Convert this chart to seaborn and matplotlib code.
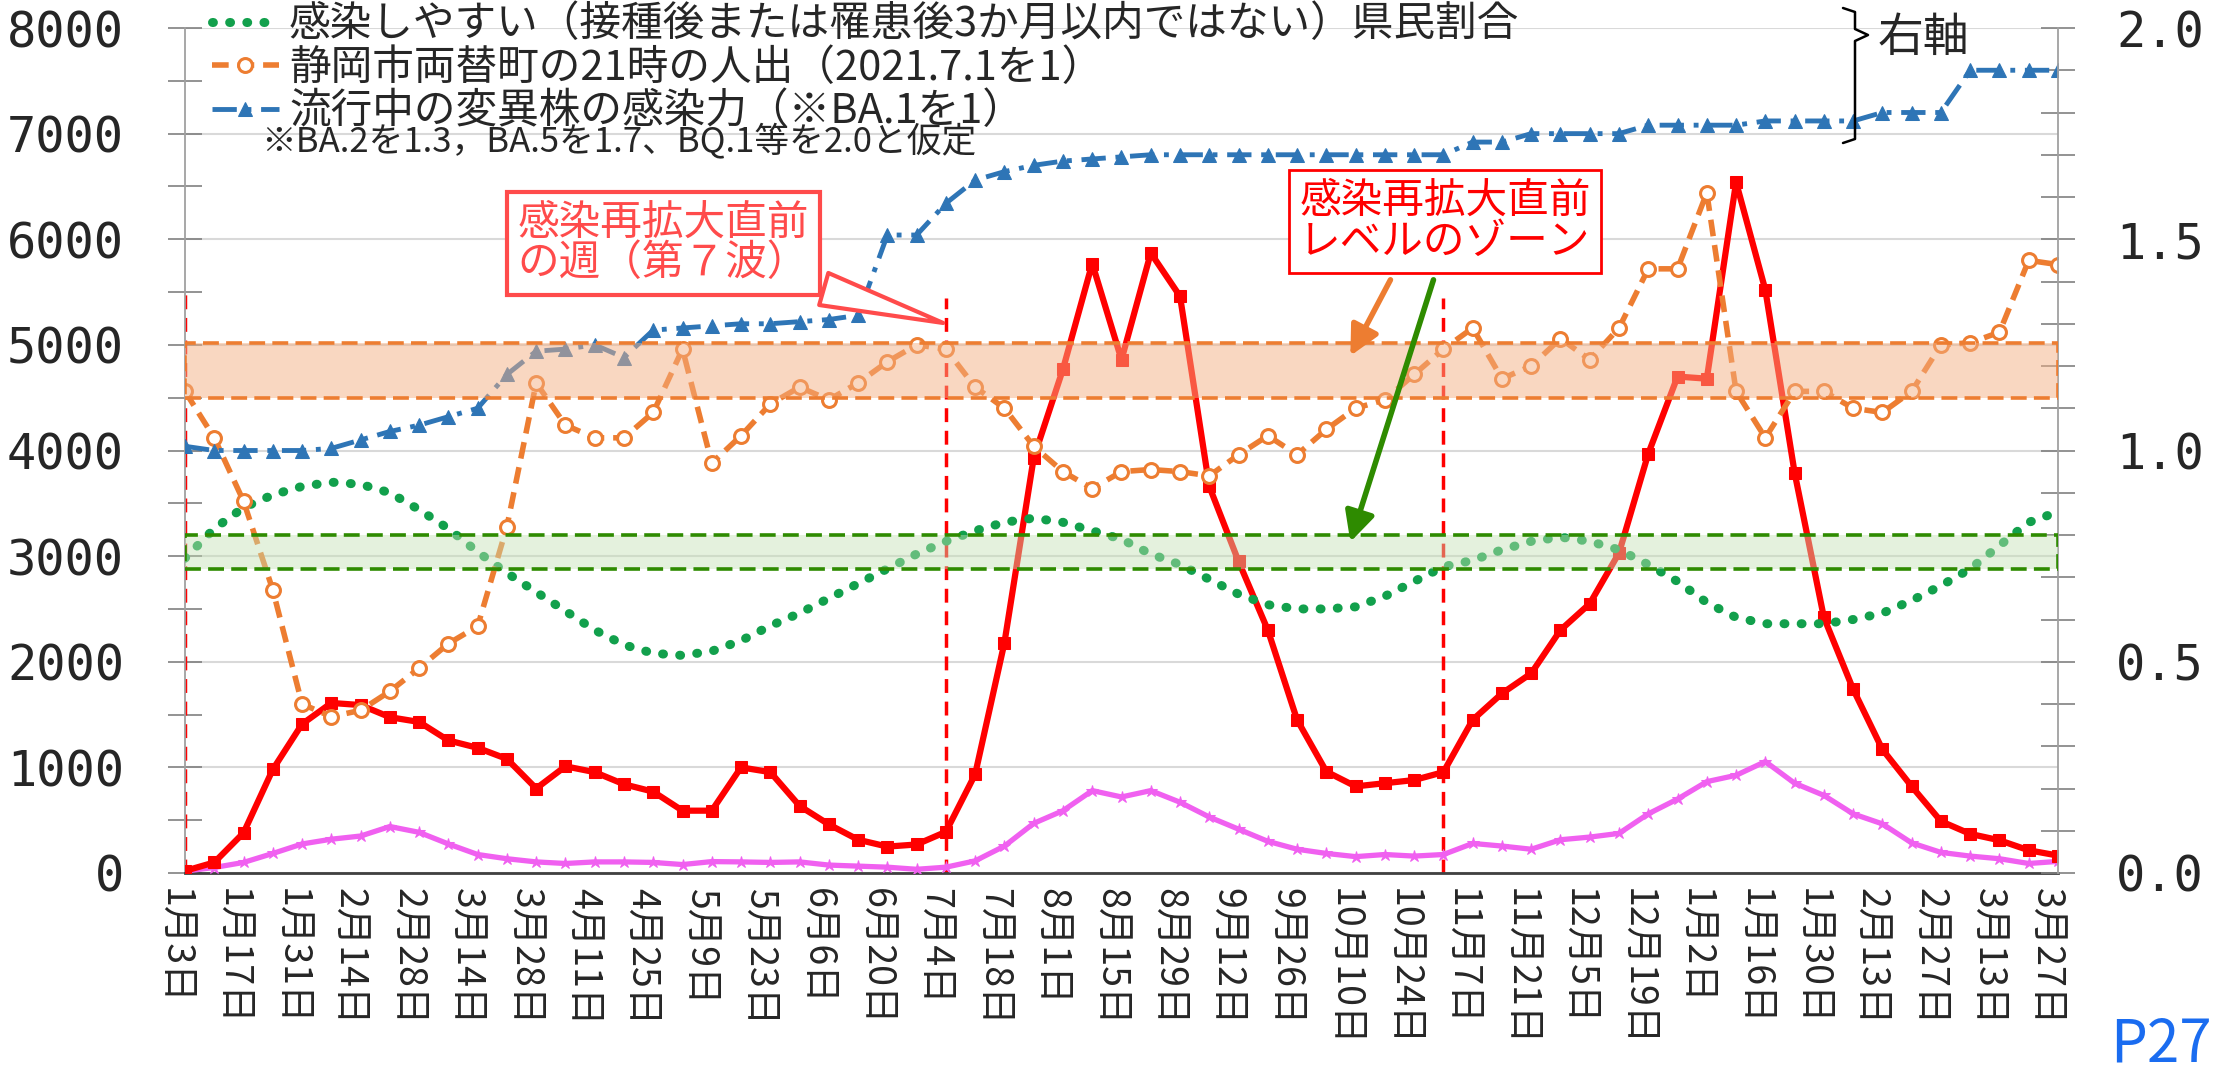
import matplotlib
matplotlib.use('Agg')
import matplotlib.pyplot as plt
import matplotlib.colors as mcolors
import matplotlib.transforms as mtransforms
from matplotlib.lines import Line2D
from matplotlib.ticker import MultipleLocator
import numpy as np
import pandas as pd
import seaborn as sns

# x軸ラベル（2週ごと）
week_labels = ['1月3日', '1月17日', '1月31日', '2月14日', '2月28日', '3月14日', '3月28日',
               '4月11日', '4月25日', '5月9日', '5月23日', '6月6日', '6月20日', '7月4日',
               '7月18日', '8月1日', '8月15日', '8月29日', '9月12日', '9月26日', '10月10日',
               '10月24日', '11月7日', '11月21日', '12月5日', '12月19日', '1月2日', '1月16日',
               '1月30日', '2月13日', '2月27日', '3月13日', '3月27日']

# 左軸（人数）
new_cases = [20, 100, 380, 980, 1410, 1610, 1590, 1475, 1430, 1255, 1185, 1080, 800, 1010,
             955, 840, 770, 590, 590, 1000, 955, 635, 460, 315, 250, 270, 390, 935, 2180,
             3930, 4770, 5770, 4860, 5870, 5460, 3660, 2950, 2300, 1450, 960, 820, 850, 880,
             955, 1450, 1700, 1890, 2300, 2550, 3030, 3970, 4700, 4680, 6540, 5520, 3790,
             2420, 1740, 1170, 820, 490, 370, 310, 215, 165]
sub_cases = [18, 52, 100, 185, 275, 320, 350, 440, 385, 275, 175, 135, 105, 90, 105, 105, 100,
             80, 108, 105, 100, 105, 75, 65, 55, 35, 55, 115, 255, 470, 590, 780, 720, 780,
             670, 530, 415, 300, 225, 185, 155, 175, 160, 175, 280, 255, 225, 315, 340, 375,
             560, 700, 865, 925, 1055, 850, 735, 560, 465, 285, 195, 160, 135, 90, 110]

# 右軸
susceptible = [0.745, 0.815, 0.865, 0.895, 0.915, 0.925, 0.92, 0.90, 0.86, 0.815, 0.76, 0.71,
               0.665, 0.62, 0.575, 0.54, 0.52, 0.515, 0.525, 0.55, 0.585, 0.615, 0.65, 0.685,
               0.72, 0.755, 0.785, 0.81, 0.83, 0.84, 0.83, 0.81, 0.79, 0.755, 0.73, 0.695,
               0.66, 0.635, 0.625, 0.625, 0.63, 0.655, 0.69, 0.725, 0.74, 0.765, 0.785, 0.795,
               0.785, 0.765, 0.73, 0.69, 0.64, 0.605, 0.59, 0.59, 0.59, 0.60, 0.615, 0.645,
               0.68, 0.72, 0.775, 0.83, 0.855]
night_crowd = [1.14, 1.03, 0.88, 0.67, 0.40, 0.37, 0.385, 0.43, 0.485, 0.543, 0.584, 0.82,
               1.16, 1.06, 1.03, 1.03, 1.09, 1.24, 0.97, 1.035, 1.11, 1.15, 1.12, 1.16, 1.21,
               1.25, 1.24, 1.15, 1.10, 1.01, 0.95, 0.91, 0.95, 0.955, 0.95, 0.94, 0.99, 1.035,
               0.99, 1.05, 1.10, 1.12, 1.18, 1.24, 1.29, 1.17, 1.20, 1.265, 1.215, 1.29, 1.43,
               1.43, 1.61, 1.14, 1.03, 1.14, 1.14, 1.10, 1.09, 1.14, 1.25, 1.255, 1.28, 1.45,
               1.44]
variant_power = [1.01, 1.0, 1.0, 1.0, 1.0, 1.005, 1.025, 1.045, 1.06, 1.08, 1.10, 1.18, 1.235,
                 1.24, 1.25, 1.22, 1.285, 1.29, 1.295, 1.30, 1.30, 1.305, 1.31, 1.32, 1.51,
                 1.51, 1.585, 1.64, 1.66, 1.675, 1.685, 1.69, 1.695, 1.70, 1.70, 1.70, 1.70,
                 1.70, 1.70, 1.70, 1.70, 1.70, 1.70, 1.70, 1.73, 1.73, 1.75, 1.75, 1.75, 1.75,
                 1.77, 1.77, 1.77, 1.77, 1.78, 1.78, 1.78, 1.78, 1.80, 1.80, 1.80, 1.90, 1.90,
                 1.90, 1.90]

# 感染再拡大直前の週（縦線）とゾーン（右軸単位）
pre_wave_weeks = [0, 26, 43]
pre_wave_tops = [5530, 5440, 5440]
orange_zone = (1.125, 1.255)
green_zone = (0.72, 0.80)

sns.set_style('white')
plt.rcParams['font.family'] = ['Noto Sans CJK JP', 'DejaVu Sans']

W, H = 2215, 1073
fig = plt.figure(figsize=(W / 100, H / 100), dpi=100)
ax = fig.add_axes([185 / W, 1 - 873 / H, (2058 - 185) / W, (873 - 28) / H])
ax2 = ax.twinx()

weeks = np.arange(len(new_cases))
df = pd.DataFrame({'week': weeks, 'cases': new_cases, 'sub': sub_cases,
                   'susceptible': susceptible, 'crowd': night_crowd, 'power': variant_power})

# 左軸の系列
ax.yaxis.grid(True, color='#D9D9D9', lw=1.5)
ax.set_axisbelow(True)
ax.vlines(pre_wave_weeks, 0, pre_wave_tops, colors='#FF0000',
          linestyles=(0, (4, 2.5)), lw=2.5, zorder=2)
sns.lineplot(data=df, x='week', y='cases', ax=ax, color='#FF0000', lw=4.5, marker='s',
             ms=9, markeredgecolor='#FF0000', zorder=4)
sns.lineplot(data=df, x='week', y='sub', ax=ax, color='#F060F0', lw=3.8, marker='*',
             ms=9, markeredgecolor='#F060F0', zorder=3)

# 右軸の系列
sns.lineplot(data=df, x='week', y='susceptible', ax=ax2, color='#12A04C', lw=6.5,
             linestyle=(0, (0.1, 1.8)), dash_capstyle='round',
             label='感染しやすい（接種後または罹患後3か月以内ではない）県民割合')
sns.lineplot(data=df, x='week', y='crowd', ax=ax2, color='#ED7D31', lw=4,
             linestyle=(0, (3, 1.6)), marker='o', ms=10, markerfacecolor='white',
             markeredgecolor='#ED7D31', markeredgewidth=2.2,
             label='静岡市両替町の21時の人出（2021.7.1を1）')
sns.lineplot(data=df, x='week', y='power', ax=ax2, color='#2E75B6', lw=3.5,
             linestyle=(0, (5, 2, 1, 2)), marker='^', ms=10, markeredgecolor='#2E75B6',
             label='流行中の変異株の感染力（※BA.1を1）')

# ゾーン
ax2.axhspan(*orange_zone, facecolor=mcolors.to_rgba('#F4B084', 0.5), edgecolor='#ED7D31',
            linestyle=(0, (4.4, 2)), lw=2.6, zorder=5)
ax2.axhspan(*green_zone, facecolor=mcolors.to_rgba('#C5E0B4', 0.45), edgecolor='#2E8B00',
            linestyle=(0, (4.4, 2)), lw=2.6, zorder=5)

# 軸
ax.set_xlim(0, len(new_cases) - 1)
ax.set_ylim(0, 8000)
ax2.set_ylim(0, 2.0)
ax.set_xlabel('')
ax.set_ylabel('')
ax2.set_ylabel('')
ax.set_xticks(weeks[::2])
ax.set_xticklabels(week_labels, rotation=270, fontsize=27)
ax.set_xticks(weeks[1::2], minor=True)
ax.tick_params(axis='x', which='major', direction='inout', length=17, width=1.3,
               color='#404040', pad=2)
ax.tick_params(axis='x', which='minor', direction='out', length=9, width=1.3, color='#404040')
ax.set_yticks(np.arange(0, 8001, 1000))
ax.yaxis.set_minor_locator(MultipleLocator(500))
ax.tick_params(axis='y', which='both', direction='inout', length=24, width=1.2,
               color='#808080', labelsize=35, pad=32, labelfontfamily='DejaVu Sans Mono')
ax2.set_yticks(np.arange(0, 2.01, 0.5))
ax2.set_yticklabels([f'{v:.1f}' for v in np.arange(0, 2.01, 0.5)])
ax2.yaxis.set_minor_locator(MultipleLocator(0.1))
ax2.tick_params(axis='y', which='both', direction='inout', length=24, width=1.2,
                color='#808080', labelsize=35, pad=30, labelfontfamily='DejaVu Sans Mono')
for side in ['top', 'right']:
    ax.spines[side].set_visible(False)
for side in ['top', 'left', 'bottom']:
    ax2.spines[side].set_visible(False)
ax.spines['left'].set_color('#A0A0A0')
ax.spines['left'].set_linewidth(1.3)
ax2.spines['right'].set_color('#A0A0A0')
ax2.spines['right'].set_linewidth(1.3)
ax.spines['bottom'].set_color('#404040')
ax.spines['bottom'].set_linewidth(2)

# 凡例
leg = ax2.legend(loc='upper left', bbox_to_anchor=(0.0144, 1.028), frameon=False, fontsize=30,
                 handlelength=1.6, handletextpad=0.25, labelspacing=0.06, borderpad=0,
                 borderaxespad=0)
leg.set_zorder(8)
ax2.text(0.0406, 0.866, '※BA.2を1.3，BA.5を1.7、BQ.1等を2.0と仮定', transform=ax.transAxes,
         fontsize=25, va='center', ha='left', zorder=8)


def fx(px):
    return px / W


def fy(py):
    return 1 - py / H


brace_x = [1843, 1855, 1855, 1868, 1855, 1855, 1843]
brace_y = [8, 12, 29, 35, 41, 139, 143]
fig.add_artist(Line2D([fx(v) for v in brace_x], [fy(v) for v in brace_y],
                      transform=fig.transFigure, color='black', lw=1.8))
fig.text(fx(1878), fy(38), '右軸', fontsize=33, va='center', ha='left')

# 吹き出し
ax2.annotate('感染再拡大直前\nの週（第７波）', xy=(26, 5200), xycoords=ax.transData,
             xytext=(16.35, 5961), textcoords=ax.transData, fontsize=30, color='#FF4B4B',
             ha='center', va='center', multialignment='left', linespacing=1.0, zorder=9,
             bbox=dict(boxstyle='square,pad=0.25', fc='white', ec='#FF4B4B', lw=3),
             arrowprops=dict(arrowstyle='wedge,tail_width=0.8,shrink_factor=0.5',
                             fc='white', ec='#FF4B4B', lw=3))
ax2.text(43.05, 6165, '感染再拡大直前\nレベルのゾーン', transform=ax.transData, fontsize=30,
         color='#FF0000', ha='center', va='center', linespacing=1.0, zorder=9,
         bbox=dict(boxstyle='square,pad=0.25', fc='white', ec='#FF0000', lw=2))
ax2.annotate('', xy=(39.82, 4896), xycoords=ax.transData, xytext=(41.19, 5616),
             textcoords=ax.transData, zorder=9,
             arrowprops=dict(arrowstyle='-|>,head_length=0.9,head_width=0.45', color='#ED7D31',
                             lw=4, mutation_scale=20, shrinkA=0, shrinkB=0))
ax2.annotate('', xy=(39.82, 3134), xycoords=ax.transData, xytext=(42.66, 5616),
             textcoords=ax.transData, zorder=9,
             arrowprops=dict(arrowstyle='-|>,head_length=0.9,head_width=0.45', color='#2E8B00',
                             lw=4, mutation_scale=20, shrinkA=0, shrinkB=0))

fig.text(fx(2212), fy(1045), 'P27', color='#1A6CF0', fontsize=42, va='center', ha='right')

shift = mtransforms.ScaledTranslation(-12 / 100, 0, fig.dpi_scale_trans)
for lbl in ax.get_xticklabels():
    lbl.set_transform(lbl.get_transform() + shift)

fig.savefig('out.png', dpi=100)
